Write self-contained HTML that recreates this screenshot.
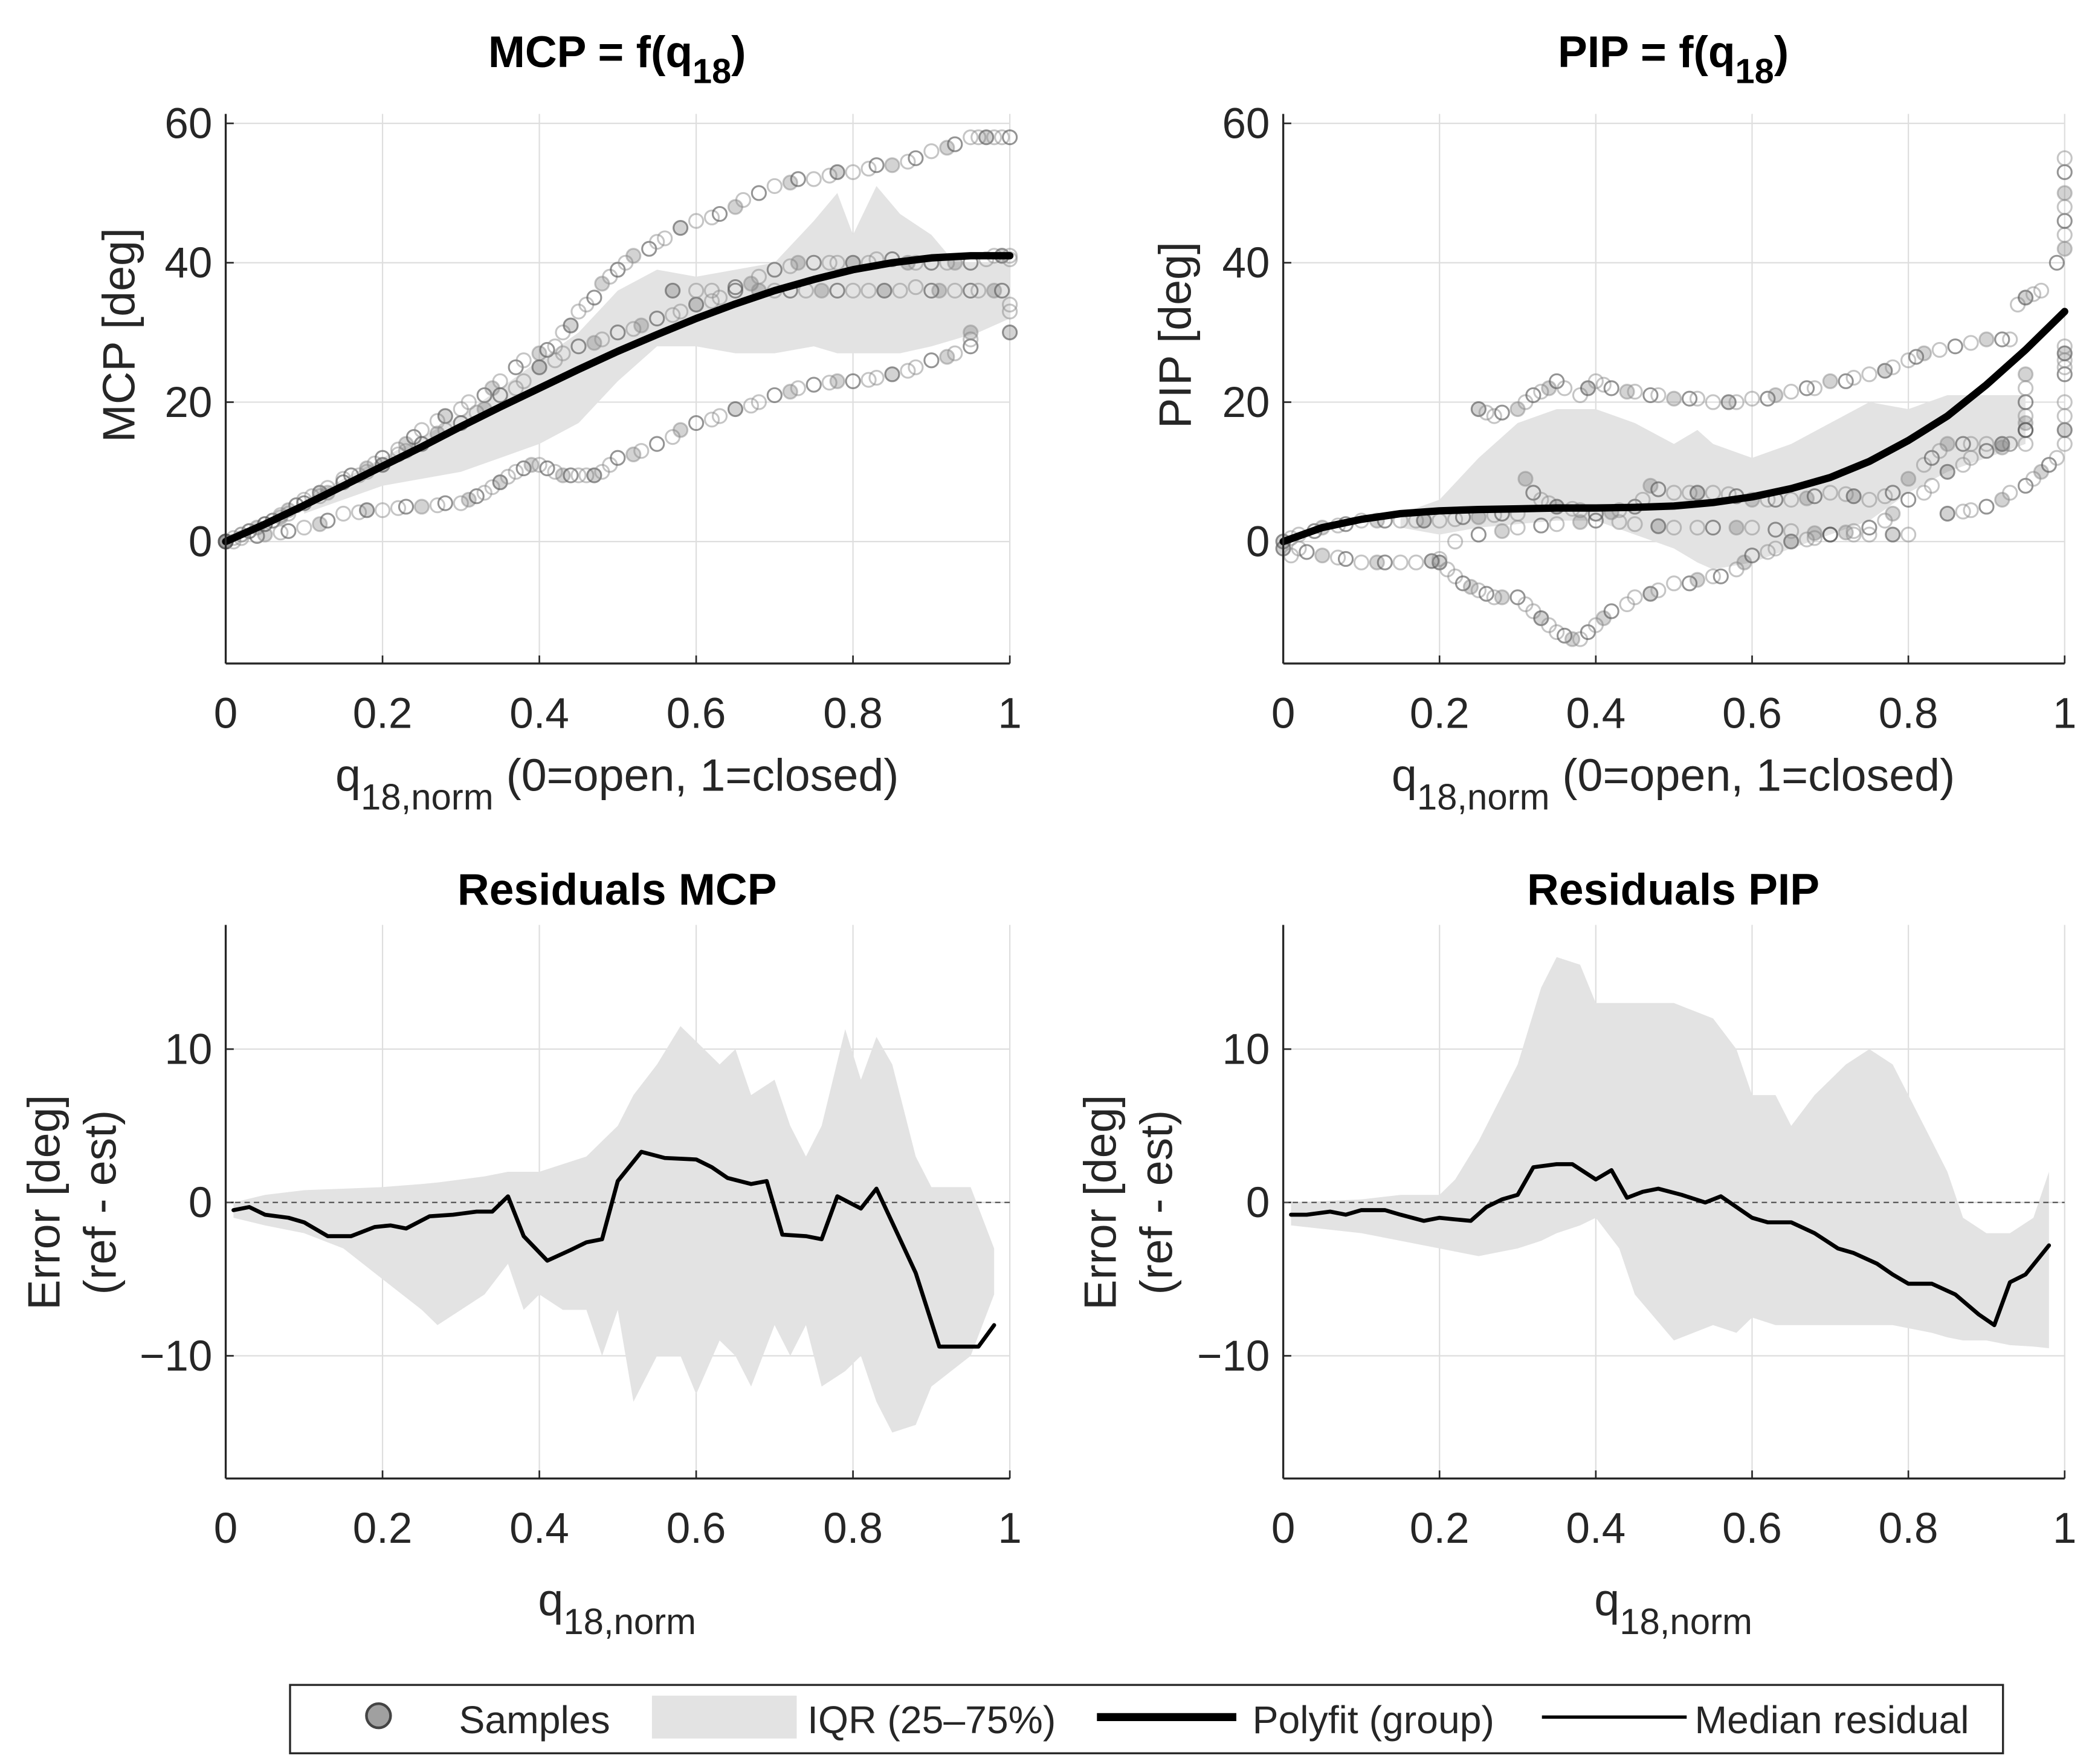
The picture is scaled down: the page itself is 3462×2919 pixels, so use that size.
<!DOCTYPE html>
<html><head><meta charset="utf-8">
<style>
html,body{margin:0;padding:0;background:#fff;}
svg{display:block;font-family:"Liberation Sans",sans-serif;}
</style></head>
<body>
<svg id="fig" width="3462" height="2919" viewBox="0 0 1560 1316" xmlns="http://www.w3.org/2000/svg">
<rect width="1560" height="1316" fill="#fff"/>
</svg>
<script>
// ---------- DATA ----------
const xTicks = [0,0.2,0.4,0.6,0.8,1];
const xTickLabels = ["0","0.2","0.4","0.6","0.8","1"];
const topYTicks = [0,20,40,60];
const resYTicks = [-10,0,10];
const resYTickLabels = ["\u221210","0","10"];

const mcpTraj1 = [[0,0],[0.01,0.5],[0.02,1],[0.03,1.5],[0.04,2],[0.05,2.5],[0.06,3],[0.07,3.8],[0.08,4.5],[0.09,5.2],[0.1,6],[0.11,6.5],[0.12,7],[0.13,7.7],[0.15,9],[0.16,9.5],[0.18,10.5],[0.19,11.2],[0.2,12],[0.22,13.2],[0.23,14],[0.24,15],[0.25,16],[0.27,17.3],[0.28,18],[0.3,19],[0.31,20],[0.33,21],[0.34,22],[0.35,23],[0.37,25],[0.38,26],[0.4,27],[0.41,27.5],[0.42,28],[0.43,30],[0.44,31],[0.45,33],[0.46,34],[0.47,35],[0.48,37],[0.49,38],[0.5,39],[0.51,40],[0.52,41],[0.54,42],[0.55,43],[0.56,43.5],[0.58,45],[0.6,46],[0.62,46.5],[0.63,47],[0.65,48],[0.66,49],[0.68,50],[0.7,51],[0.72,51.5],[0.73,52],[0.75,52],[0.77,52.5],[0.78,53],[0.8,53],[0.82,53.5],[0.83,54],[0.85,54],[0.87,54.5],[0.88,55],[0.9,56],[0.92,56.5],[0.93,57],[0.95,58],[0.96,58],[0.97,58],[0.98,58],[0.99,58],[1,58]];
const mcpTraj2 = [[0,0],[0.02,1],[0.03,1.5],[0.05,2.5],[0.07,3.5],[0.08,4],[0.1,5.5],[0.12,6.5],[0.13,7],[0.15,8.5],[0.17,9.5],[0.18,10],[0.2,11],[0.22,12.5],[0.23,13],[0.25,14],[0.27,15.5],[0.28,16],[0.3,17],[0.32,18.5],[0.33,19],[0.35,21],[0.37,22],[0.38,23],[0.4,25],[0.42,26],[0.43,27],[0.45,28],[0.47,28.5],[0.48,29],[0.5,30],[0.52,30.5],[0.53,31],[0.55,32],[0.57,32.5],[0.58,33],[0.6,34],[0.62,34.5],[0.63,35],[0.65,36],[0.67,37],[0.68,38],[0.7,39],[0.72,39.5],[0.73,40],[0.75,40],[0.77,40],[0.78,40],[0.8,40],[0.82,40],[0.83,40.5],[0.85,40.5],[0.87,40],[0.88,40],[0.9,40],[0.92,40],[0.93,40],[0.95,40],[0.97,40.5],[0.98,41],[0.99,41],[1,41],[1,40.5]];
const mcpTraj3 = [[0.57,36],[0.6,36],[0.62,36],[0.65,36.5],[0.68,36],[0.7,36],[0.72,36],[0.74,36],[0.76,36],[0.78,36],[0.8,36],[0.82,36],[0.84,36],[0.86,36],[0.88,36.5],[0.9,36],[0.91,36],[0.93,36],[0.95,36],[0.96,36],[0.98,36],[0.99,36],[1,34],[1,33],[1,30]];
const mcpTraj4 = [[0,0],[0.01,0],[0.02,0.5],[0.04,0.8],[0.05,1],[0.07,1.3],[0.08,1.5],[0.1,2],[0.12,2.5],[0.13,3],[0.15,4],[0.17,4.2],[0.18,4.5],[0.2,4.5],[0.22,4.8],[0.23,5],[0.25,5],[0.27,5.2],[0.28,5.5],[0.3,5.5],[0.31,6],[0.32,6.5],[0.33,7],[0.34,7.8],[0.35,8.5],[0.36,9.3],[0.37,10],[0.38,10.5],[0.39,11],[0.4,11],[0.41,10.5],[0.42,10],[0.43,9.5],[0.44,9.5],[0.45,9.5],[0.46,9.5],[0.47,9.5],[0.48,10],[0.49,11],[0.5,12],[0.52,12.5],[0.53,13],[0.55,14],[0.57,15],[0.58,16],[0.6,17],[0.62,17.5],[0.63,18],[0.65,19],[0.67,19.5],[0.68,20],[0.7,21],[0.72,21.5],[0.73,22],[0.75,22.5],[0.77,22.8],[0.78,23],[0.8,23],[0.82,23.2],[0.83,23.5],[0.85,24],[0.87,24.5],[0.88,25],[0.9,26],[0.92,26.5],[0.93,27],[0.95,28],[0.95,29],[0.95,30]];

const pipTraj1 = [[0.25,19],[0.26,18.5],[0.27,18],[0.28,18.5],[0.3,19],[0.31,20],[0.32,21],[0.33,21.5],[0.34,22],[0.35,23],[0.36,22],[0.38,21],[0.39,22],[0.4,23],[0.41,22.5],[0.42,22],[0.44,21.5],[0.45,21.5],[0.47,21],[0.48,21],[0.5,20.5],[0.52,20.5],[0.53,20.5],[0.55,20],[0.57,20],[0.58,20],[0.6,20.5],[0.62,20.5],[0.63,21],[0.65,21.5],[0.67,22],[0.68,22],[0.7,23],[0.72,23],[0.73,23.5],[0.75,24],[0.77,24.5],[0.78,25],[0.8,26],[0.81,26.5],[0.82,27],[0.84,27.5],[0.86,28],[0.88,28.5],[0.9,29],[0.92,29],[0.93,29],[0.94,34],[0.95,35],[0.96,35.5],[0.97,36],[0.99,40],[1,42],[1,44],[1,46],[1,48],[1,50],[1,53],[1,55]];
const pipTraj2 = [[0,0],[0.01,0.5],[0.02,1],[0.04,1.5],[0.05,2],[0.07,2.3],[0.08,2.5],[0.1,3],[0.12,3],[0.13,3],[0.15,3],[0.17,3],[0.18,3],[0.2,3],[0.22,3.2],[0.23,3.5],[0.25,3.5],[0.27,3.8],[0.28,4],[0.3,4],[0.31,9],[0.32,7],[0.33,6],[0.34,5.5],[0.35,5],[0.37,4.7],[0.38,4.5],[0.4,4],[0.42,4.2],[0.43,4.5],[0.45,5],[0.46,6],[0.47,8],[0.48,7.5],[0.5,7],[0.52,7],[0.53,7],[0.55,7],[0.57,6.8],[0.58,6.5],[0.6,6],[0.62,6],[0.63,6],[0.65,6],[0.67,6.2],[0.68,6.5],[0.7,7],[0.72,6.8],[0.73,6.5],[0.75,6],[0.77,6.5],[0.78,7],[0.8,9],[0.82,11],[0.83,12],[0.84,13],[0.85,14],[0.87,14],[0.88,14],[0.9,14],[0.92,14],[0.93,14],[0.95,14],[0.95,16],[0.95,17],[0.95,18],[0.95,20],[0.95,22],[0.95,24],[1,24],[1,25],[1,26],[1,27],[1,28]];
const pipTraj3 = [[0.2,-3],[0.21,-4],[0.22,-5],[0.23,-6],[0.24,-6.5],[0.25,-7],[0.26,-7.5],[0.27,-8],[0.28,-8],[0.3,-8],[0.31,-9],[0.32,-10],[0.33,-11],[0.34,-12],[0.35,-13],[0.36,-13.5],[0.37,-14],[0.38,-14],[0.39,-13],[0.4,-12],[0.41,-11],[0.42,-10],[0.44,-9],[0.45,-8],[0.47,-7.5],[0.48,-7],[0.5,-6],[0.52,-6],[0.53,-5.5],[0.55,-5],[0.56,-5],[0.58,-4],[0.59,-3],[0.6,-2],[0.62,-1.5],[0.63,-1],[0.65,0],[0.67,0.3],[0.68,0.5],[0.7,1],[0.72,1.3],[0.73,1.5],[0.75,2],[0.77,3],[0.78,4],[0.8,6],[0.82,7],[0.83,8],[0.85,10],[0.87,11],[0.88,12],[0.9,13],[0.92,13.5],[0.93,14],[0.95,16]];
const pipTraj4 = [[0,-1],[0.01,-2],[0.02,-1],[0.03,-1.5],[0.05,-2],[0.07,-2.3],[0.08,-2.5],[0.1,-3],[0.12,-3],[0.13,-3],[0.15,-3],[0.17,-3],[0.19,-2.8],[0.2,-2.5],[0.22,0],[0.25,1],[0.28,1.5],[0.3,2],[0.33,2.3],[0.35,2.5],[0.38,2.8],[0.4,3],[0.43,2.8],[0.45,2.5],[0.48,2.2],[0.5,2],[0.53,2],[0.55,2],[0.58,2],[0.6,2],[0.63,1.7],[0.65,1.5],[0.68,1.2],[0.7,1],[0.73,1],[0.75,1],[0.78,1],[0.8,1]];
const pipTraj5 = [[0.85,4],[0.87,4.3],[0.88,4.5],[0.9,5],[0.92,6],[0.93,7],[0.95,8],[0.96,9],[0.97,10],[0.98,11],[0.99,12],[1,14],[1,16],[1,18],[1,20]];

const fitX = [0,0.05,0.1,0.15,0.2,0.25,0.3,0.35,0.4,0.45,0.5,0.55,0.6,0.65,0.7,0.75,0.8,0.85,0.9,0.95,1];
const mcpFit = [0,2.5,5.2,8,10.8,13.6,16.5,19.3,22,24.7,27.3,29.7,32,34.1,36,37.6,39,40,40.7,41,41];
const pipFit = [0,2,3.2,4,4.4,4.6,4.7,4.8,4.8,4.9,5.1,5.6,6.4,7.6,9.2,11.5,14.5,18,22.5,27.5,33];

const mcpIqrX = [0.1,0.2,0.3,0.35,0.4,0.45,0.5,0.55,0.6,0.65,0.7,0.75,0.78,0.8,0.83,0.86,0.9,0.93,0.96,1];
const mcpIqrHi = [6,12,18,22,26,30,36,39,38,39,40,46,50,44,51,47,44,40,40,40];
const mcpIqrLo = [4,8,10,12,14,17,23,28,28,27,27,28,27,27,27,27,28,29,30,32];

const pipIqrX = [0.15,0.2,0.25,0.3,0.35,0.4,0.45,0.5,0.53,0.55,0.6,0.65,0.7,0.75,0.8,0.85,0.9,0.95];
const pipIqrHi = [4,6,12,17,19,19,17,14,16,14,12,14,17,20,19,21,21,21];
const pipIqrLo = [2,1,2,2.5,3,3,1,-1,-3,-4,-3,-1,1,3,7,10,12,14];

const resMcpX = [0.01,0.03,0.05,0.08,0.1,0.13,0.16,0.19,0.21,0.23,0.26,0.29,0.32,0.34,0.36,0.38,0.41,0.44,0.46,0.48,0.5,0.53,0.56,0.6,0.62,0.64,0.67,0.69,0.71,0.74,0.76,0.78,0.81,0.83,0.86,0.88,0.91,0.93,0.96,0.98];
const resMcpMed = [-0.5,-0.3,-0.8,-1,-1.3,-2.2,-2.2,-1.6,-1.5,-1.7,-0.9,-0.8,-0.6,-0.6,0.4,-2.2,-3.8,-3.1,-2.6,-2.4,1.4,3.3,2.9,2.8,2.3,1.6,1.2,1.4,-2.1,-2.2,-2.4,0.4,-0.4,0.9,-2.4,-4.6,-9.4,-9.4,-9.4,-8];
const resMcpIqrX = [0.01,0.05,0.1,0.15,0.2,0.25,0.27,0.3,0.33,0.36,0.38,0.4,0.43,0.46,0.48,0.5,0.52,0.55,0.58,0.6,0.63,0.65,0.67,0.7,0.72,0.74,0.76,0.79,0.81,0.83,0.85,0.88,0.9,0.95,0.98];
const resMcpHi = [0,0.5,0.8,0.9,1,1.2,1.3,1.5,1.7,2,2,2,2.5,3,4,5,7,9,11.5,10.5,9,10,7,8,5,3,5,11.3,8,10.8,9,3,1,1,-3];
const resMcpLo = [-1,-1.5,-2,-3,-5,-7,-8,-7,-6,-4,-7,-6,-7,-7,-10,-7,-13,-10,-10,-12.5,-9,-10,-12,-8,-10,-8,-12,-11,-10,-13,-15,-14.5,-12,-10,-6];

const resPipX = [0.01,0.03,0.06,0.08,0.1,0.13,0.15,0.18,0.2,0.22,0.24,0.26,0.28,0.3,0.32,0.35,0.37,0.4,0.42,0.44,0.46,0.48,0.51,0.54,0.56,0.6,0.62,0.65,0.68,0.71,0.73,0.76,0.78,0.8,0.83,0.86,0.89,0.91,0.93,0.95,0.98];
const resPipMed = [-0.8,-0.8,-0.6,-0.8,-0.5,-0.5,-0.8,-1.2,-1,-1.1,-1.2,-0.3,0.2,0.5,2.3,2.5,2.5,1.5,2.1,0.3,0.7,0.9,0.5,0,0.4,-1,-1.3,-1.3,-2,-3,-3.3,-4,-4.7,-5.3,-5.3,-6,-7.3,-8,-5.2,-4.7,-2.8];
const resPipIqrX = [0.01,0.1,0.15,0.2,0.22,0.25,0.27,0.3,0.33,0.35,0.38,0.4,0.43,0.45,0.5,0.55,0.58,0.6,0.63,0.65,0.68,0.72,0.75,0.78,0.8,0.83,0.85,0.87,0.9,0.93,0.96,0.98];
const resPipHi = [0,0.2,0.5,0.5,1.5,4,6,9,14,16,15.5,13,13,13,13,12,10,7,7,5,7,9,10,9,7,4,2,-1,-2,-2,-1,2];
const resPipLo = [-1.5,-2,-2.5,-3,-3.2,-3.5,-3.3,-3,-2.5,-2,-1.5,-1,-3,-6,-9,-8,-8.5,-7.5,-8,-8,-8,-8,-8,-8,-8.2,-8.5,-8.8,-9,-9,-9.3,-9.4,-9.5];

// ---------- DRAWING ----------
const NS = "http://www.w3.org/2000/svg";
const svg = document.getElementById("fig");
function el(tag, attrs, parent){
  const e = document.createElementNS(NS, tag);
  for (const k in attrs) e.setAttribute(k, attrs[k]);
  (parent||svg).appendChild(e);
  return e;
}
function makeAxes(x0,x1,yTop,yBot,ymin,ymax){
  return {
    sx: v => x0 + (x1-x0)*v,
    sy: v => yBot - (yBot-yTop)*(v-ymin)/(ymax-ymin),
    x0,x1,yTop,yBot
  };
}
function drawFrame(ax, yTicks, yLabels, name){
  const g = el("g",{});
  
  
  xTicks.forEach((t,i)=>{
    const x = ax.sx(t);
    const l = el("line",{x1:x,x2:x,y1:ax.yTop,y2:ax.yBot,stroke:"#dedede","stroke-width":1},g);
    
    
    el("line",{x1:x,x2:x,y1:ax.yBot,y2:ax.yBot-6,stroke:"#262626","stroke-width":1.2},g);
    const tx = el("text",{x:x,y:ax.yBot+48,"font-size":32,fill:"#262626","text-anchor":"middle"},g);
    tx.textContent = xTickLabels[i];
    
    
  });
  yTicks.forEach((t,i)=>{
    const y = ax.sy(t);
    const l = el("line",{x1:ax.x0,x2:ax.x1,y1:y,y2:y,stroke:"#dedede","stroke-width":1},g);
    
    
    el("line",{x1:ax.x0,x2:ax.x0+6,y1:y,y2:y,stroke:"#262626","stroke-width":1.2},g);
    const tx = el("text",{x:ax.x0-10,y:y+11,"font-size":32,fill:"#262626","text-anchor":"end"},g);
    tx.textContent = yLabels[i];
    
    
  });
  return g;
}
function drawSpines(ax){
  el("line",{x1:ax.x0,x2:ax.x0,y1:ax.yTop,y2:ax.yBot,stroke:"#262626","stroke-width":1.5});
  el("line",{x1:ax.x0,x2:ax.x1,y1:ax.yBot,y2:ax.yBot,stroke:"#262626","stroke-width":1.5});
}
function band(ax, xs, hi, lo, name){
  let d = "";
  xs.forEach((x,i)=>{ d += (i?"L":"M")+ax.sx(x).toFixed(1)+","+ax.sy(hi[i]).toFixed(1); });
  for (let i=xs.length-1;i>=0;i--) d += "L"+ax.sx(xs[i]).toFixed(1)+","+ax.sy(lo[i]).toFixed(1);
  const p = el("path",{d:d+"Z",fill:"#e3e3e3"});
  
  
}
function line(ax, xs, ys, w, name){
  const pts = xs.map((x,i)=>ax.sx(x).toFixed(1)+","+ax.sy(ys[i]).toFixed(1)).join(" ");
  const p = el("polyline",{points:pts,fill:"none",stroke:"#000","stroke-width":w,"stroke-linejoin":"round","stroke-linecap":"round"});
  
  
}
function scatter(ax, pts, name){
  const g = el("g",{});
  
  
  pts.forEach((p,i)=>{
    const c = el("circle",{cx:ax.sx(p[0]),cy:ax.sy(p[1]),r:5.2,fill:(i%4===0)?"rgba(110,110,110,0.3)":"none",stroke:(i%3===0)?"rgba(90,90,90,0.65)":"rgba(140,140,140,0.5)","stroke-width":1.4},g);
    
    
  });
}
function title(x,y,main,name){
  const t = el("text",{x:x,y:y,"font-size":33,"font-weight":"bold",fill:"#000","text-anchor":"middle"});
  
  
  t.innerHTML = main+'f(q<tspan font-size="26" dy="12">18</tspan><tspan dy="-12">)</tspan>';
}
function xlabel(x,y,extra,name){
  const t = el("text",{x:x,y:y,"font-size":34,fill:"#262626","text-anchor":"middle"});
  
  
  t.innerHTML = 'q<tspan font-size="27" dy="14">18,norm</tspan><tspan dy="-14">'+extra+'</tspan>';
}
function ylabel(x,y,txt,name){
  const t = el("text",{x:x,y:y,"font-size":34,fill:"#262626","text-anchor":"middle",transform:`rotate(-90 ${x} ${y})`});
  t.textContent = txt;
  
  
}

const topLabels = topYTicks.map(String);
const axA = makeAxes(168,753,85,495,-17.5,61.35);
const axB = makeAxes(957,1540,85,495,-17.5,61.35);
const axC = makeAxes(168,753,690,1103,-18,18.1);
const axD = makeAxes(957,1540,690,1103,-18,18.1);

// panel A
drawFrame(axA, topYTicks, topLabels, 'mcp');
band(axA, mcpIqrX, mcpIqrHi, mcpIqrLo, 'mcp-iqr-band');
scatter(axA, mcpTraj1, 'mcp-samples-1');
scatter(axA, mcpTraj2, 'mcp-samples-2');
scatter(axA, mcpTraj3, 'mcp-samples-3');
scatter(axA, mcpTraj4, 'mcp-samples-4');
line(axA, fitX, mcpFit, 5.5, 'mcp-polyfit');
drawSpines(axA);
title(460,50,'MCP = ','mcp-title');
xlabel(460,590,' (0=open, 1=closed)','mcp-x-label');
ylabel(100,250,'MCP [deg]','mcp-y-label');

// panel B
drawFrame(axB, topYTicks, topLabels, 'pip');
band(axB, pipIqrX, pipIqrHi, pipIqrLo, 'pip-iqr-band');
scatter(axB, pipTraj1, 'pip-samples-1');
scatter(axB, pipTraj2, 'pip-samples-2');
scatter(axB, pipTraj3, 'pip-samples-3');
scatter(axB, pipTraj4, 'pip-samples-4');
scatter(axB, pipTraj5, 'pip-samples-5');
line(axB, fitX, pipFit, 5.5, 'pip-polyfit');
drawSpines(axB);
title(1248,50,'PIP = ','pip-title');
xlabel(1248,590,' (0=open, 1=closed)','pip-x-label');
ylabel(888,250,'PIP [deg]','pip-y-label');

// panel C
drawFrame(axC, resYTicks, resYTickLabels, 'res-mcp');
band(axC, resMcpIqrX, resMcpHi, resMcpLo, 'res-mcp-iqr-band');
el("line",{x1:axC.x0,x2:axC.x1,y1:axC.sy(0),y2:axC.sy(0),stroke:"#555","stroke-width":1,"stroke-dasharray":"4,3"});
line(axC, resMcpX, resMcpMed, 3, 'res-mcp-median');
drawSpines(axC);
let tt = el("text",{x:460,y:675,"font-size":33,"font-weight":"bold","text-anchor":"middle"});
tt.textContent = "Residuals MCP";


xlabel(460,1205,'','res-mcp-x-label');
ylabel(44,897,'Error [deg]','res-mcp-y-label');
ylabel(86,897,'(ref - est)','res-mcp-y-label-2');

// panel D
drawFrame(axD, resYTicks, resYTickLabels, 'res-pip');
band(axD, resPipIqrX, resPipHi, resPipLo, 'res-pip-iqr-band');
el("line",{x1:axD.x0,x2:axD.x1,y1:axD.sy(0),y2:axD.sy(0),stroke:"#555","stroke-width":1,"stroke-dasharray":"4,3"});
line(axD, resPipX, resPipMed, 3, 'res-pip-median');
drawSpines(axD);
tt = el("text",{x:1248,y:675,"font-size":33,"font-weight":"bold","text-anchor":"middle"});
tt.textContent = "Residuals PIP";


xlabel(1248,1205,'','res-pip-x-label');
ylabel(832,897,'Error [deg]','res-pip-y-label');
ylabel(874,897,'(ref - est)','res-pip-y-label-2');

// legend
const lg = el("g",{});


el("rect",{x:216,y:1257,width:1278,height:51,fill:"#fff",stroke:"#262626","stroke-width":1.5},lg);
el("circle",{cx:282,cy:1280,r:9,fill:"#a0a0a0",stroke:"#444","stroke-width":2},lg);
el("rect",{x:486,y:1265,width:108,height:32,fill:"#e3e3e3"},lg);
el("line",{x1:818,x2:922,y1:1281,y2:1281,stroke:"#000","stroke-width":6},lg);
el("line",{x1:1150,x2:1258,y1:1281,y2:1281,stroke:"#000","stroke-width":2.5},lg);
[["Samples",342,'legend-samples'],["IQR (25\u201375%)",602,'legend-iqr'],["Polyfit (group)",934,'legend-polyfit'],["Median residual",1264,'legend-median']].forEach(a=>{
  const t = el("text",{x:a[1],y:1293,"font-size":29,fill:"#262626"},lg);
  t.textContent = a[0];
  
  
});
</script>
</body></html>
